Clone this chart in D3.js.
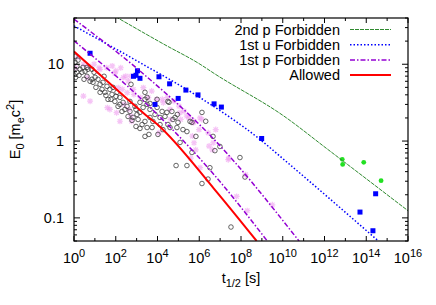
<!DOCTYPE html>
<html>
<head>
<meta charset="utf-8">
<script src="https://cdnjs.cloudflare.com/ajax/libs/d3/7.8.5/d3.min.js"></script>
<style>
body { margin: 0; background: #fff; }
svg { display: block; font-family: "Liberation Sans", Arial, sans-serif; }
</style>
</head>
<body>
<svg width="436" height="305"></svg>
<script>
// all pairs are [log10(t1/2 / s), E0 in m_e c^2]

// curves
let second_p_line = [[2.0, 41.5], [4.31, 18.2], [6.04, 10], [6.71, 7.6], [10.06, 2.11], [12.17, 0.774], [16.0, 0.124]];
let first_u_line = [[0, 31.6], [3.16, 10.5], [6.04, 3.67], [8.91, 1.05], [10.06, 0.573], [14.58, 0.05]];
let first_p_upper = [[0, 38.7], [3.16, 8.17], [6.71, 1.05], [10.78, 0.05]];
let first_p_lower = [[0, 20.2], [3.16, 3.67], [6.71, 0.365], [9.26, 0.05]];
let allowed_line = [[0, 14.6], [2, 4.8], [3.35, 2.29], [4, 1.64], [6.71, 0.239], [8.75, 0.05]];

// measured transitions
let allowed_pts = [
	[0.05,12.7],[0.05,10.6],[0.14,9.4],[0.19,11.3],[0.29,8.6],[0.38,7.86],[0.43,9.1],[0.14,7.86],
	[0.24,7.18],[0.53,8.1],[0.67,8.6],[0.86,8.6],[0.62,6.97],[0.86,6.37],[1.01,6.76],[0.77,6.0],
	[0.91,5.82],[1.15,6.37],[1.25,5.48],[1.39,5.82],[1.34,4.71],[1.58,5.16],[1.72,4.71],[1.48,4.31],
	[1.82,4.05],[1.87,5.0],[2.06,4.31],[1.63,3.49],[1.96,3.28],[2.20,3.70],[2.35,3.19],[2.11,2.83],
	[2.54,2.83],[2.30,2.43],[2.68,2.43],[2.59,2.09],[2.83,2.03],[2.78,1.86],[3.02,2.22],[3.16,2.36],
	[2.92,2.83],[2.68,3.28],[3.16,3.19],[3.31,2.74],[3.50,3.0],[3.40,3.49],[3.40,4.31],[3.50,3.70],
	[3.64,2.58],[3.98,2.74],[4.22,2.43],[4.36,2.09],[4.69,2.43],[4.50,3.28],[4.84,2.03],[5.22,1.41],
	[5.56,1.80],[6.13,2.36],[5.08,0.96],[5.65,0.71],[6.99,0.85],[6.51,0.45],[6.42,0.32],[7.95,0.61],
	[8.19,0.34],[4.89,0.48],[5.41,0.48],[6.13,0.28],[3.50,1.50],[3.40,1.15],[4.02,1.22],[3.40,1.80],
	[4.12,1.64],[4.50,1.64],[4.74,1.91],[4.93,1.50],[5.84,1.15],[6.75,0.75],[7.52,0.076],[0.62,9.1],
	[0.96,7.86],[1.44,6.97],[2.73,5.48],[4.45,2.36],[5.41,1.33],[5.65,1.75],[6.66,1.15],[3.59,1.22],
	[0.48,6.37],[1.05,5.0],[1.25,4.31],[1.53,3.93],[1.77,3.49],[2.01,3.82],[2.20,3.0],[2.44,2.58],
	[2.97,2.58],[3.07,1.91],[3.26,1.64],[3.64,2.03],[3.78,1.80],[3.88,2.22],[4.12,2.03],[4.26,1.41],
	[4.60,1.50],[4.98,1.75],[3.64,3.09],[3.98,3.49],[3.74,1.50],[2.97,1.55],[3.16,1.46],[4.55,3.19],
	[6.31,1.81],[4.95,2.22],[0.08,6.76]
];
let first_p_pts = [
	[0.45,10.0],[0.69,9.5],[1.25,8.6],[1.57,9.0],[1.96,7.63],[2.36,6.7],[2.60,6.05],[2.12,4.95],
	[2.84,4.71],[3.32,4.95],[3.72,4.48],[3.96,3.49],[3.56,3.67],[4.28,3.16],[4.60,2.58],[5.08,2.34],
	[5.40,2.11],[5.71,1.73],[6.04,2.0],[6.43,1.28],[6.67,0.95],[1.72,2.58],[2.04,2.34],[2.20,1.81],
	[2.76,1.81],[0.45,3.85],[0.77,3.31],[0.08,9.0],[0.64,6.7],[1.83,9.5],[2.24,9.0],[2.0,8.2],
	[2.48,7.0],[2.72,7.0],[2.31,4.71],[2.55,4.27],[2.87,4.05],[1.60,2.72],[3.19,3.67],[0.96,10.0],
	[1.20,9.0],[4.23,3.49],[4.47,3.67],[4.79,3.31],[5.03,2.85],[5.27,2.45],[5.51,2.0],[5.75,1.81],
	[5.11,1.91],[4.63,1.91],[4.07,1.28],[5.67,1.16],[5.75,0.95],[5.83,0.77],[5.99,1.41],[6.47,0.86],
	[6.63,0.77],[5.59,0.60],[7.42,0.60],[8.22,0.365],[9.50,0.148],[7.79,0.19],[8.30,0.124],[6.79,1.41],
	[7.39,0.573],[6.04,0.45],[6.12,1.91],[2.40,3.0],[2.63,2.58],[2.72,2.11],[0.19,12.3]
];
let first_u_pts = [
	[0.77,13.9],[2.85,6.97],[3.04,8.22],[2.97,7.18],[3.16,6.56],[3.88,3.0],[4.07,6.87],[4.58,5.56],
	[4.99,3.59],[5.36,4.61],[5.94,3.99],[6.71,3.05],[7.06,2.77],[8.99,1.08],[13.7,0.119],[14.32,0.068],
	[14.45,0.206]
];
let second_p_pts = [[12.85,0.578],[12.87,0.497],[13.88,0.528],[14.71,0.305]];

let x_label_exps = [0, 2, 4, 6, 8, 10, 12, 14, 16];
let y_tick_labels = [0.1, 1, 10];
let legend_names = ["2nd p Forbidden", "1st u Forbidden", "1st p Forbidden", "Allowed"];

var svg = d3.select("svg"),
	margin = {top: 18, right: 28, bottom: 64, left: 74},
	width = +svg.attr("width") - margin.left - margin.right,
	height = +svg.attr("height") - margin.top - margin.bottom;

var x = d3.scaleLog().domain([1, 1e16]).range([0, width]);
var y = d3.scaleLog().domain([0.05, 40]).range([height, 0]);

function px(d) { return x(Math.pow(10, d[0])); }
function py(d) { return y(d[1]); }

var focus = svg.append("g")
	.attr("transform", "translate(" + margin.left + "," + margin.top + ")");

focus.append("clipPath").attr("id", "clip")
	.append("rect").attr("width", width).attr("height", height);

var plot = focus.append("g").attr("clip-path", "url(#clip)");

// points
plot.selectAll(".pp").data(first_p_pts).enter().append("path")
	.attr("class", "pp")
	.attr("transform", function(d) { return "translate(" + px(d) + "," + py(d) + ")"; })
	.attr("d", "M-3,0H3M0,-3V3M-2.2,-2.2L2.2,2.2M-2.2,2.2L2.2,-2.2")
	.style("stroke", "#f09cf0")
	.style("stroke-width", 1.2)
	.style("opacity", 0.6);

plot.selectAll(".ap").data(allowed_pts).enter().append("circle")
	.attr("class", "ap")
	.attr("cx", px).attr("cy", py).attr("r", 2.3)
	.style("fill", "none").style("stroke", "#333").style("stroke-width", 0.75);

plot.selectAll(".up").data(first_u_pts).enter().append("rect")
	.attr("class", "up")
	.attr("x", function(d) { return px(d) - 2.5; })
	.attr("y", function(d) { return py(d) - 2.5; })
	.attr("width", 5).attr("height", 5)
	.style("fill", "#0000ff");

plot.selectAll(".sp").data(second_p_pts).enter().append("circle")
	.attr("class", "sp")
	.attr("cx", px).attr("cy", py).attr("r", 2.4)
	.style("fill", "#22e022");

// curves
var line = d3.line().x(px).y(py).curve(d3.curveMonotoneX);

var curves = [
	{data: second_p_line, color: "#2f8a2f", width: 1, dash: "4,1"},
	{data: first_u_line, color: "#0000ff", width: 1.5, dash: "1.5,2"},
	{data: first_p_upper, color: "#9400d3", width: 1.5, dash: "5,2,1.5,2"},
	{data: first_p_lower, color: "#9400d3", width: 1.5, dash: "5,2,1.5,2"},
	{data: allowed_line, color: "#ff0000", width: 2, dash: null}
];

curves.forEach(function(c) {
	plot.append("path")
		.datum(c.data)
		.attr("fill", "none")
		.attr("stroke", c.color)
		.attr("stroke-width", c.width)
		.attr("stroke-dasharray", c.dash)
		.attr("d", line);
});

// frame and ticks
focus.append("rect")
	.attr("width", width).attr("height", height)
	.attr("fill", "none").attr("stroke", "black").attr("stroke-width", 1.2);

var ticks = focus.append("g").attr("stroke", "black").attr("stroke-width", 1);

d3.range(0, 17).forEach(function(i) {
	let xx = x(Math.pow(10, i));
	let len = (i % 2 == 0) ? 5 : 3;
	ticks.append("line").attr("x1", xx).attr("x2", xx).attr("y1", height).attr("y2", height - len);
	ticks.append("line").attr("x1", xx).attr("x2", xx).attr("y1", 0).attr("y2", len);
});

[0.01, 0.1, 1, 10].forEach(function(dec) {
	d3.range(1, 10).forEach(function(k) {
		let v = k * dec;
		if (v < 0.0499 || v > 40.01) return;
		let yy = y(v);
		let len = (k == 1) ? 6 : 3;
		ticks.append("line").attr("x1", 0).attr("x2", len).attr("y1", yy).attr("y2", yy);
		ticks.append("line").attr("x1", width).attr("x2", width - len).attr("y1", yy).attr("y2", yy);
	});
});

// tick labels
x_label_exps.forEach(function(e) {
	let t = focus.append("text")
		.attr("x", x(Math.pow(10, e)))
		.attr("y", height + 22)
		.attr("text-anchor", "middle")
		.style("font-size", "14.5px");
	t.append("tspan").text("10");
	t.append("tspan").attr("dy", -6).style("font-size", "11px").text(e);
});

y_tick_labels.forEach(function(v) {
	focus.append("text")
		.attr("x", -10)
		.attr("y", y(v))
		.attr("dy", "0.36em")
		.attr("text-anchor", "end")
		.style("font-size", "14.5px")
		.text(v);
});

// axis titles
var xt = focus.append("text")
	.attr("x", width / 2)
	.attr("y", height + 42)
	.attr("text-anchor", "middle")
	.style("font-size", "14.5px");
xt.append("tspan").text("t");
xt.append("tspan").attr("dy", 4).style("font-size", "11px").text("1/2");
xt.append("tspan").attr("dy", -4).text(" [s]");

var yt = svg.append("text")
	.attr("transform", "translate(20," + (margin.top + height / 2) + ") rotate(-90)")
	.attr("text-anchor", "middle")
	.style("font-size", "14.5px");
yt.append("tspan").text("E");
yt.append("tspan").attr("dy", 4).style("font-size", "11px").text("0");
yt.append("tspan").attr("dy", -4).text(" [m");
yt.append("tspan").attr("dy", 4).style("font-size", "11px").text("e");
yt.append("tspan").attr("dy", -4).text("c");
yt.append("tspan").attr("dy", -6).style("font-size", "11px").text("2");
yt.append("tspan").attr("dy", 6).text("]");

// legend
var legend_styles = [curves[0], curves[1], curves[2], curves[4]];
legend_names.forEach(function(name, i) {
	let ly = 11.5 + i * 15.2;
	focus.append("text")
		.attr("x", 340 - margin.left)
		.attr("y", ly)
		.attr("dy", "0.36em")
		.attr("text-anchor", "end")
		.style("font-size", "14.5px")
		.text(name);
	focus.append("line")
		.attr("x1", 350 - margin.left).attr("x2", 391 - margin.left)
		.attr("y1", ly).attr("y2", ly)
		.attr("stroke", legend_styles[i].color)
		.attr("stroke-width", legend_styles[i].width)
		.attr("stroke-dasharray", legend_styles[i].dash);
});
</script>
</body>
</html>
